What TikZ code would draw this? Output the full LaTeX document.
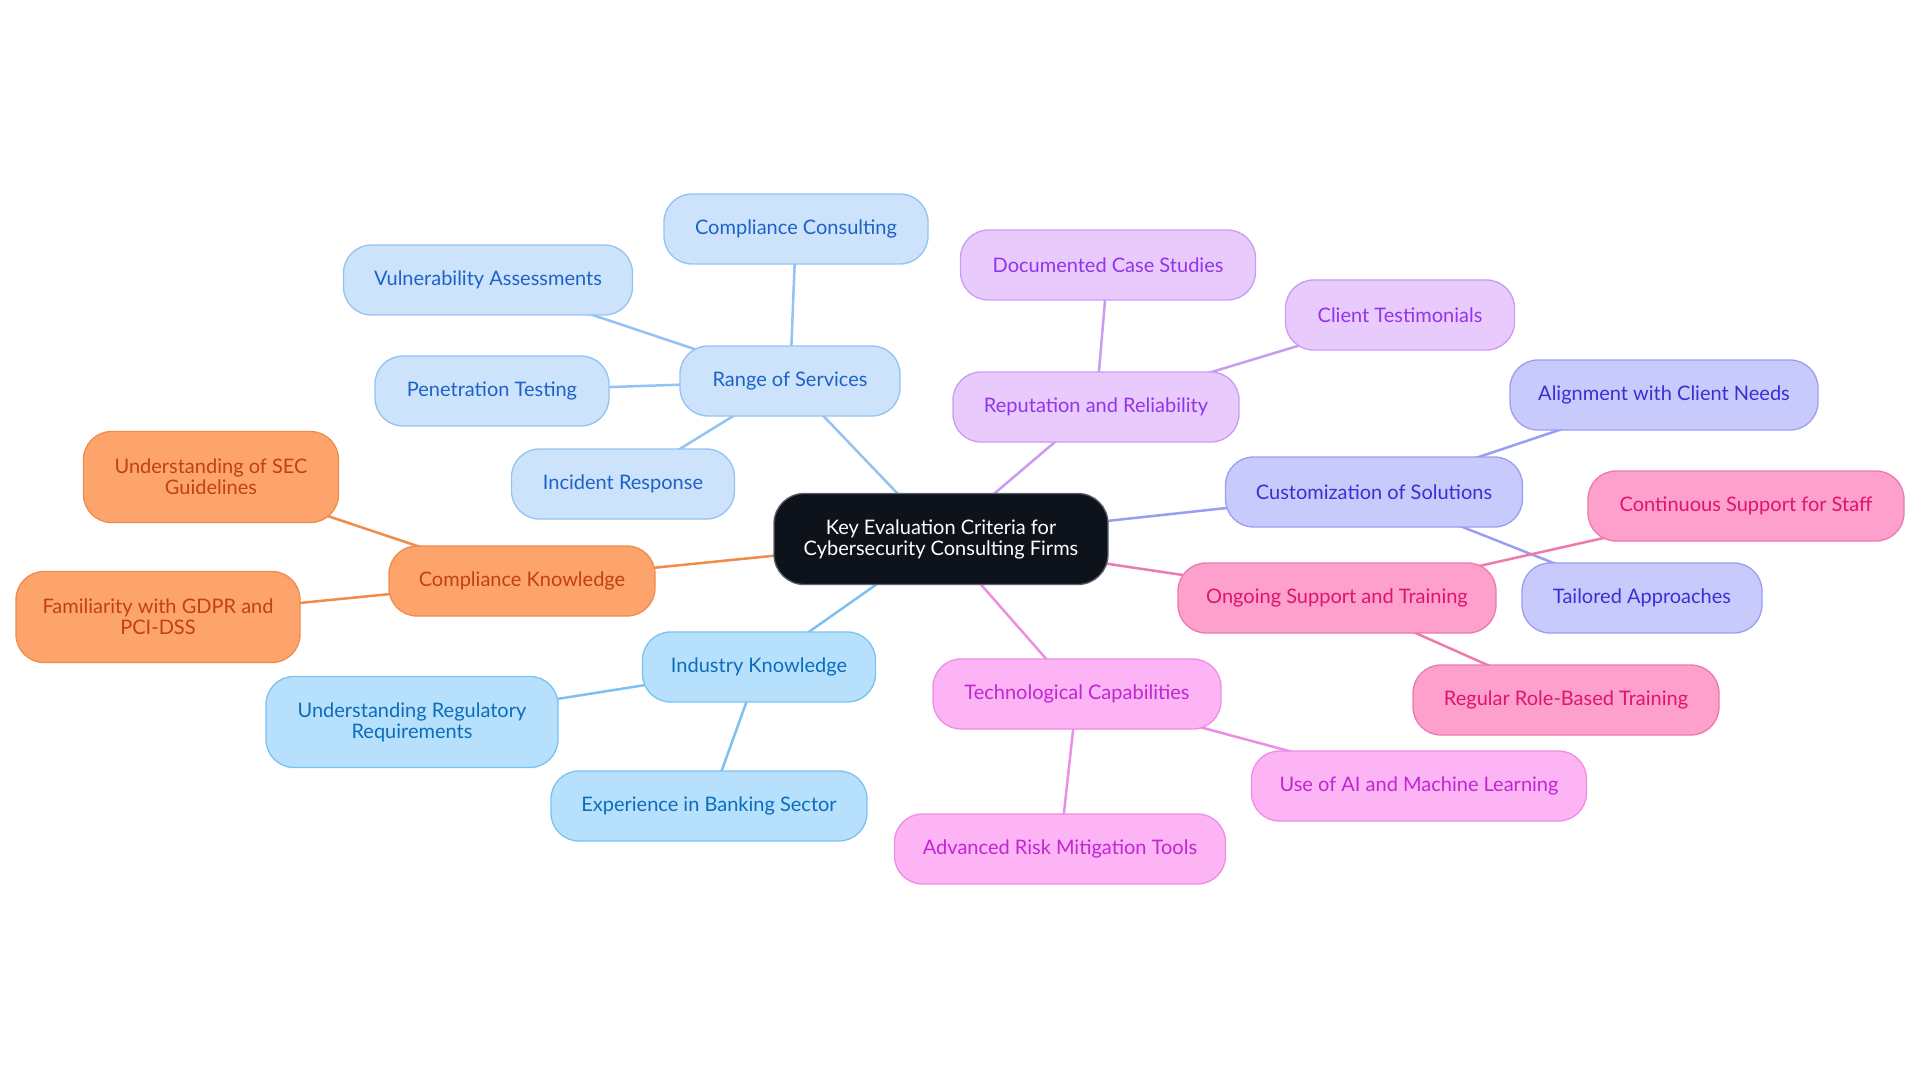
\documentclass[tikz,border=0pt]{standalone}
\usepackage{fontspec}
\setmainfont{Lato}
\usepackage{xcolor}
\usetikzlibrary{backgrounds}
\definecolor{rootfill}{RGB}{14,19,27}
\definecolor{rootdraw}{RGB}{90,96,108}
\definecolor{svcfill}{RGB}{205,227,251}
\definecolor{svcdraw}{RGB}{147,195,242}
\definecolor{svctext}{RGB}{29,98,201}
\definecolor{indfill}{RGB}{183,224,252}
\definecolor{inddraw}{RGB}{124,194,241}
\definecolor{indtext}{RGB}{11,109,189}
\definecolor{cmpfill}{RGB}{253,164,109}
\definecolor{cmpdraw}{RGB}{240,139,76}
\definecolor{cmptext}{RGB}{194,65,12}
\definecolor{repfill}{RGB}{232,202,253}
\definecolor{repdraw}{RGB}{201,156,242}
\definecolor{reptext}{RGB}{147,51,234}
\definecolor{cusfill}{RGB}{200,202,252}
\definecolor{cusdraw}{RGB}{154,158,242}
\definecolor{custext}{RGB}{55,48,212}
\definecolor{supfill}{RGB}{253,160,203}
\definecolor{supdraw}{RGB}{238,121,175}
\definecolor{suptext}{RGB}{224,19,111}
\definecolor{tecfill}{RGB}{252,180,245}
\definecolor{tecdraw}{RGB}{238,141,229}
\definecolor{tectext}{RGB}{192,38,211}

\begin{document}
\begin{tikzpicture}[
  x=1pt, y=-1pt,
  font=\fontsize{20}{21}\selectfont,
  topic/.style={rectangle, rounded corners=28pt, line width=1.3pt,
                align=center, inner sep=0pt, minimum height=70pt},
  tall/.style={minimum height=91pt},
  rootbox/.style={topic, tall, fill=rootfill, draw=rootdraw, text=white, rounded corners=30pt},
  svcbox/.style={topic, fill=svcfill, draw=svcdraw, text=svctext},
  indbox/.style={topic, fill=indfill, draw=inddraw, text=indtext},
  cmpbox/.style={topic, fill=cmpfill, draw=cmpdraw, text=cmptext},
  repbox/.style={topic, fill=repfill, draw=repdraw, text=reptext},
  cusbox/.style={topic, fill=cusfill, draw=cusdraw, text=custext},
  supbox/.style={topic, fill=supfill, draw=supdraw, text=suptext},
  tecbox/.style={topic, fill=tecfill, draw=tecdraw, text=tectext},
  link/.style={line width=2.5pt}
]
\useasboundingbox (0,0) rectangle (1920,1083);

% --- Root ---
\node[rootbox, minimum width=334pt] (root) at (941,539) {Key Evaluation Criteria for\\Cybersecurity Consulting Firms};

% --- Range of services ---
\node[svcbox, minimum width=220pt] (svc) at (790,381) {Range of Services};
\node[svcbox, minimum width=264pt] (svc1) at (796,229) {Compliance Consulting};
\node[svcbox, minimum width=289pt] (svc2) at (488,280) {Vulnerability Assessments};
\node[svcbox, minimum width=234pt] (svc3) at (492,391) {Penetration Testing};
\node[svcbox, minimum width=223pt] (svc4) at (623,484) {Incident Response};

% --- Compliance knowledge ---
\node[cmpbox, minimum width=266pt] (cmp) at (522,581) {Compliance Knowledge};
\node[cmpbox, tall, minimum width=255pt] (cmp1) at (211,477) {Understanding of SEC\\Guidelines};
\node[cmpbox, tall, minimum width=284pt] (cmp2) at (158,617) {Familiarity with GDPR and\\PCI-DSS};

% --- Industry knowledge ---
\node[indbox, minimum width=233pt] (ind) at (759,667) {Industry Knowledge};
\node[indbox, tall, minimum width=292pt] (ind1) at (412,722) {Understanding Regulatory\\Requirements};
\node[indbox, minimum width=316pt] (ind2) at (709,806) {Experience in Banking Sector};

% --- Reputation ---
\node[repbox, minimum width=286pt] (rep) at (1096,407) {Reputation and Reliability};
\node[repbox, minimum width=295pt] (rep1) at (1108,265) {Documented Case Studies};
\node[repbox, minimum width=229pt] (rep2) at (1400,315) {Client Testimonials};

% --- Customization ---
\node[cusbox, minimum width=297pt] (cus) at (1374,492) {Customization of Solutions};
\node[cusbox, minimum width=308pt] (cus1) at (1664,395) {Alignment with Client Needs};
\node[cusbox, minimum width=240pt] (cus2) at (1642,598) {Tailored Approaches};

% --- Support and training ---
\node[supbox, minimum width=318pt] (sup) at (1337,598) {Ongoing Support and Training};
\node[supbox, minimum width=316pt] (sup1) at (1746,506) {Continuous Support for Staff};
\node[supbox, minimum width=306pt] (sup2) at (1566,700) {Regular Role-Based Training};

% --- Technology ---
\node[tecbox, minimum width=288pt] (tec) at (1077,694) {Technological Capabilities};
\node[tecbox, minimum width=335pt] (tec1) at (1419,786) {Use of AI and Machine Learning};
\node[tecbox, minimum width=331pt] (tec2) at (1060,849) {Advanced Risk Mitigation Tools};

% --- Links ---
\begin{scope}[on background layer]
\draw[link, svcdraw] (root.center) -- (svc.center);
\foreach \c in {svc1,svc2,svc3,svc4}
  \draw[link, svcdraw] (svc.center) -- (\c.center);
\draw[link, cmpdraw] (root.center) -- (cmp.center);
\foreach \c in {cmp1,cmp2}
  \draw[link, cmpdraw] (cmp.center) -- (\c.center);
\draw[link, inddraw] (root.center) -- (ind.center);
\foreach \c in {ind1,ind2}
  \draw[link, inddraw] (ind.center) -- (\c.center);
\draw[link, repdraw] (root.center) -- (rep.center);
\foreach \c in {rep1,rep2}
  \draw[link, repdraw] (rep.center) -- (\c.center);
\draw[link, cusdraw] (root.center) -- (cus.center);
\foreach \c in {cus1,cus2}
  \draw[link, cusdraw] (cus.center) -- (\c.center);
\draw[link, supdraw] (root.center) -- (sup.center);
\foreach \c in {sup1,sup2}
  \draw[link, supdraw] (sup.center) -- (\c.center);
\draw[link, tecdraw] (root.center) -- (tec.center);
\foreach \c in {tec1,tec2}
  \draw[link, tecdraw] (tec.center) -- (\c.center);
\end{scope}

\end{tikzpicture}
\end{document}
